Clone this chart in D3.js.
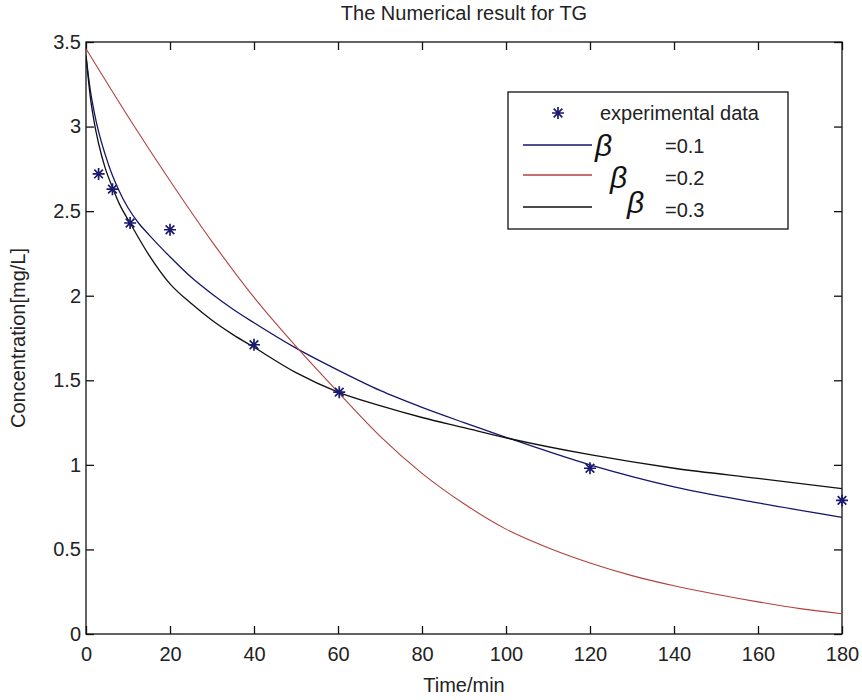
<!DOCTYPE html>
<html>
<head>
<meta charset="utf-8">
<script src="https://cdn.jsdelivr.net/npm/d3@7"></script>
<style>
  html, body { margin: 0; padding: 0; background: #fff; }
  text { font-family: "Liberation Sans", Arial, sans-serif; }
</style>
</head>
<body>
<svg id="chart" width="862" height="700"></svg>
<script>
// ---- data ----
const expTime = [3, 6.3, 10.5, 20, 40, 60.3, 120, 180];
const expConc = [2.72, 2.63, 2.43, 2.39, 1.71, 1.43, 0.98, 0.79];

const beta01Time = [0, 1, 2, 3, 4.5, 6, 7.7, 10, 12.5, 15, 20, 25, 30, 35, 40, 50, 60, 70, 80, 90, 100, 120, 140, 160, 180];
const beta01Conc = [3.42, 3.22, 3.08, 2.97, 2.84, 2.73, 2.63, 2.52, 2.43, 2.36, 2.23, 2.11, 2.01, 1.92, 1.84, 1.69, 1.56, 1.44, 1.34, 1.25, 1.163, 1.0, 0.87, 0.775, 0.69];

const beta02Time = [0, 10, 20, 30, 40, 50, 60, 70, 80, 90, 100, 110, 120, 130, 140, 150, 160, 170, 180];
const beta02Conc = [3.46, 3.06, 2.68, 2.32, 1.99, 1.70, 1.43, 1.17, 0.95, 0.77, 0.62, 0.51, 0.42, 0.345, 0.285, 0.235, 0.19, 0.15, 0.12];

const beta03Time = [0, 1, 2, 3, 4.5, 6.3, 8, 10.5, 15, 20, 25, 30, 35, 40, 50, 60, 70, 80, 90, 100, 120, 140, 160, 180];
const beta03Conc = [3.42, 3.18, 3.02, 2.90, 2.76, 2.64, 2.54, 2.43, 2.24, 2.07, 1.955, 1.855, 1.77, 1.695, 1.545, 1.43, 1.35, 1.28, 1.22, 1.16, 1.06, 0.98, 0.92, 0.86];

const xTicks = [0, 20, 40, 60, 80, 100, 120, 140, 160, 180];
const xTickLabels = ["0", "20", "40", "60", "80", "100", "120", "140", "160", "180"];
const yTicks = [0, 0.5, 1, 1.5, 2, 2.5, 3, 3.5];
const yTickLabels = ["0", "0.5", "1", "1.5", "2", "2.5", "3", "3.5"];

const legendLabels = ["experimental data", "=0.1", "=0.2", "=0.3"];
const titleText = "The Numerical result for TG";
const xLabel = "Time/min";
const yLabel = "Concentration[mg/L]";

// ---- layout ----
const L = 86, R = 842, T = 42, B = 634;
const svg = d3.select("#chart");
const x = d3.scaleLinear().domain([0, 180]).range([L, R]);
const y = d3.scaleLinear().domain([0, 3.5]).range([B, T]);

const FS = 20;
const tickLen = 8;

svg.append("defs").append("clipPath").attr("id", "clip")
  .append("rect").attr("x", L).attr("y", T).attr("width", R - L).attr("height", B - T);

const fmtX = (d, i) => xTickLabels[i];
const fmtY = (d, i) => yTickLabels[i];

const gx = svg.append("g").attr("transform", `translate(0,${B})`)
  .call(d3.axisBottom(x).tickValues(xTicks).tickFormat(fmtX).tickSizeInner(-tickLen).tickSizeOuter(0).tickPadding(13));
const gxTop = svg.append("g").attr("transform", `translate(0,${T})`)
  .call(d3.axisTop(x).tickValues(xTicks).tickFormat("").tickSizeInner(-tickLen).tickSizeOuter(0));
const gy = svg.append("g").attr("transform", `translate(${L},0)`)
  .call(d3.axisLeft(y).tickValues(yTicks).tickFormat(fmtY).tickSizeInner(-tickLen).tickSizeOuter(0).tickPadding(5));
const gyR = svg.append("g").attr("transform", `translate(${R},0)`)
  .call(d3.axisRight(y).tickValues(yTicks).tickFormat("").tickSizeInner(-tickLen).tickSizeOuter(0));

[gx, gxTop, gy, gyR].forEach(g => {
  g.select(".domain").remove();
  g.selectAll("line").attr("stroke", "#111").attr("stroke-width", 1.3);
  g.selectAll("text").attr("font-size", FS).attr("fill", "#222")
    .attr("font-family", '"Liberation Sans", Arial, sans-serif');
});
gx.selectAll("text").attr("dy", "0.71em");

svg.append("rect").attr("x", L).attr("y", T).attr("width", R - L).attr("height", B - T)
  .attr("fill", "none").attr("stroke", "#111").attr("stroke-width", 1.3);

const line = d3.line().x(d => x(d[0])).y(d => y(d[1])).curve(d3.curveMonotoneX);
const series = [
  { t: beta01Time, c: beta01Conc, color: "#16166a", w: 1.3 },
  { t: beta02Time, c: beta02Conc, color: "#b0423f", w: 1.1 },
  { t: beta03Time, c: beta03Conc, color: "#111111", w: 1.3 }
];
const plot = svg.append("g").attr("clip-path", "url(#clip)");
series.forEach(s => {
  plot.append("path")
    .datum(s.t.map((t, i) => [t, s.c[i]]))
    .attr("d", line)
    .attr("fill", "none")
    .attr("stroke", s.color)
    .attr("stroke-width", s.w);
});

// star marker (plus + x)
const starSymbol = {
  draw(ctx, size) {
    const r = Math.sqrt(size) / 2;
    const d = r * 0.72;
    ctx.moveTo(-r, 0); ctx.lineTo(r, 0);
    ctx.moveTo(0, -r); ctx.lineTo(0, r);
    ctx.moveTo(-d, -d); ctx.lineTo(d, d);
    ctx.moveTo(-d, d); ctx.lineTo(d, -d);
  }
};
const starPath = d3.symbol().type(starSymbol).size(144)();
const markerColor = "#1a1a70";
svg.append("g").selectAll("path.pt")
  .data(expTime.map((t, i) => [t, expConc[i]]))
  .join("path")
  .attr("class", "pt")
  .attr("d", starPath)
  .attr("transform", d => `translate(${x(d[0])},${y(d[1])})`)
  .attr("fill", "none")
  .attr("stroke", markerColor)
  .attr("stroke-width", 1.7);

svg.append("text").attr("x", (L + R) / 2).attr("y", 20).attr("text-anchor", "middle")
  .attr("font-size", FS).attr("fill", "#222").text(titleText);
svg.append("text").attr("x", (L + R) / 2).attr("y", 692).attr("text-anchor", "middle")
  .attr("font-size", FS).attr("fill", "#222").text(xLabel);
svg.append("text").attr("transform", `translate(25,${(T + B) / 2}) rotate(-90)`)
  .attr("text-anchor", "middle").attr("font-size", FS).attr("fill", "#222").text(yLabel);

// legend
const lg = svg.append("g");
lg.append("rect").attr("x", 508).attr("y", 92).attr("width", 280).attr("height", 137)
  .attr("fill", "#fff").attr("stroke", "#111").attr("stroke-width", 1.3);
lg.append("path").attr("d", starPath).attr("transform", "translate(558,113)")
  .attr("fill", "none").attr("stroke", markerColor).attr("stroke-width", 1.7);
lg.append("text").attr("x", 600).attr("y", 120).attr("font-size", FS).attr("fill", "#222").text(legendLabels[0]);

const rowY = [145, 175, 207];
const betaX = [595, 610, 627];
const betaY = [156, 188, 213];
const valY = [153, 185, 217];
series.forEach((s, i) => {
  lg.append("line").attr("x1", 523).attr("x2", 592).attr("y1", rowY[i]).attr("y2", rowY[i])
    .attr("stroke", s.color).attr("stroke-width", 1.3);
  lg.append("text").attr("x", betaX[i]).attr("y", betaY[i])
    .attr("font-family", '"Liberation Serif", "Times New Roman", serif')
    .attr("font-style", "italic").attr("font-size", 30).attr("fill", "#111").text("\u03B2");
  lg.append("text").attr("x", 665).attr("y", valY[i]).attr("font-size", FS).attr("fill", "#222")
    .text(legendLabels[i + 1]);
});
</script>
</body>
</html>
